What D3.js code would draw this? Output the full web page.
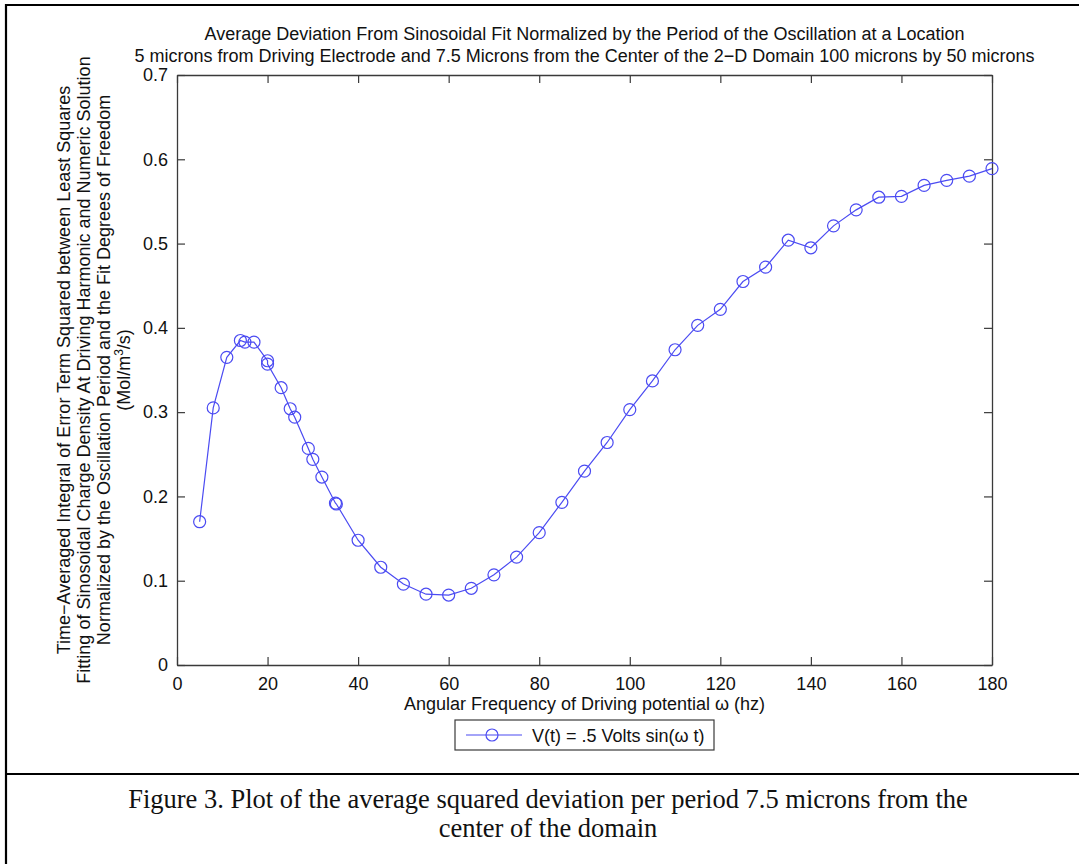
<!DOCTYPE html>
<html>
<head>
<meta charset="utf-8">
<script src="https://cdn.jsdelivr.net/npm/d3@7"></script>
<style>
  body { margin: 0; background: #fff; }
  svg text { font-family: "Liberation Sans", Arial, Helvetica, sans-serif; fill: #111; }
  .caption { font-family: "Liberation Serif", "Times New Roman", serif; }
</style>
</head>
<body>
<div id="vis"></div>
<script>
// data
const freq = [5, 8, 11, 14, 15, 17, 20, 20, 23, 25, 26, 29, 30, 32, 35, 35.2, 40, 45, 50, 55, 60, 65, 70, 75,
  80, 85, 90, 95, 100, 105, 110, 115, 120, 125, 130, 135, 140, 145, 150, 155, 160, 165, 170, 175, 180]
const deviation = [0.170, 0.305, 0.365, 0.385, 0.383, 0.383, 0.361, 0.357, 0.329, 0.304, 0.294, 0.257, 0.244,
  0.223, 0.192, 0.191, 0.148, 0.116, 0.096, 0.084, 0.083, 0.091, 0.107, 0.128, 0.157, 0.193, 0.230, 0.264,
  0.303, 0.337, 0.374, 0.403, 0.422, 0.455, 0.472, 0.504, 0.495, 0.521, 0.540, 0.555, 0.556, 0.569, 0.575,
  0.580, 0.589]
const xTicks = [0, 20, 40, 60, 80, 100, 120, 140, 160, 180]
const yTicks = [0, 0.1, 0.2, 0.3, 0.4, 0.5, 0.6, 0.7]

const titleLines = [
  'Average Deviation From Sinosoidal Fit Normalized by the Period of the Oscillation at a Location',
  '5 microns from Driving Electrode and 7.5 Microns from the Center of the 2\u2212D Domain 100 microns by 50 microns'
]
const yLabelLines = [
  'Time\u2212Averaged Integral of Error Term Squared between Least Squares',
  'Fitting of Sinosoidal Charge Density At Driving Harmonic and Numeric Solution',
  'Normalized by the Oscillation Period and the Fit Degrees of Freedom'
]
const xLabel = 'Angular Frequency of Driving potential \u03c9 (hz)'
const legendLabel = 'V(t) = .5 Volts sin(\u03c9 t)'
const captionLines = [
  'Figure 3. Plot of the average squared deviation per period 7.5 microns from the',
  'center of the domain'
]

const data = freq.map((f, i) => ({ x: f, y: deviation[i] }))

const W = 1079, H = 864
const plot = { left: 177, top: 75, right: 992, bottom: 665 }
const blue = '#4b4bf2'
const axisColor = '#3a3a3a'
const tickLen = 8
const fs = '18px'

const svg = d3.select('#vis')
  .append('svg')
  .attr('width', W)
  .attr('height', H)

// outer figure frame (right and bottom edges are cut off in the original)
const frame = svg.append('g').attr('stroke', '#000').attr('stroke-width', 2.2).attr('fill', 'none')
frame.append('path').attr('d', `M6,${H} L6,5 L${W},5`)
frame.append('line').attr('x1', 6).attr('x2', W).attr('y1', 774).attr('y2', 774)

const xScale = d3.scaleLinear().domain([0, 180]).range([plot.left, plot.right])
const yScale = d3.scaleLinear().domain([0, 0.7]).range([plot.bottom, plot.top])

// axes, matlab-style: inward ticks on all four sides
const fmtY = d => d === 0 ? '0' : d3.format('.1f')(d)

const gx = svg.append('g')
  .attr('transform', `translate(0,${plot.bottom})`)
  .call(d3.axisBottom(xScale).tickValues(xTicks).tickSizeInner(-tickLen).tickSizeOuter(0).tickPadding(12))
const gy = svg.append('g')
  .attr('transform', `translate(${plot.left},0)`)
  .call(d3.axisLeft(yScale).tickValues(yTicks).tickFormat(fmtY).tickSizeInner(-tickLen).tickSizeOuter(0).tickPadding(9))
const gxTop = svg.append('g')
  .attr('transform', `translate(0,${plot.top})`)
  .call(d3.axisTop(xScale).tickValues(xTicks).tickSizeInner(-tickLen).tickSizeOuter(0).tickFormat(''))
const gyRight = svg.append('g')
  .attr('transform', `translate(${plot.right},0)`)
  .call(d3.axisRight(yScale).tickValues(yTicks).tickSizeInner(-tickLen).tickSizeOuter(0).tickFormat(''))

;[gx, gy, gxTop, gyRight].forEach(g => {
  g.select('.domain').attr('stroke', axisColor).attr('stroke-width', 1.3)
  g.selectAll('.tick line').attr('stroke', axisColor).attr('stroke-width', 1.2)
  g.selectAll('.tick text').style('font-size', fs).attr('fill', '#111')
})

// title
svg.selectAll('.title')
  .data(titleLines)
  .enter()
  .append('text')
  .attr('class', 'title')
  .attr('x', (plot.left + plot.right) / 2)
  .attr('y', (d, i) => 40 + i * 22)
  .attr('text-anchor', 'middle')
  .style('font-size', fs)
  .text(d => d)

// y label (rotated, four lines)
const yLabX = [70, 90, 110]
const ymid = (plot.top + plot.bottom) / 2
svg.selectAll('.ylab')
  .data(yLabelLines)
  .enter()
  .append('text')
  .attr('class', 'ylab')
  .attr('transform', (d, i) => `translate(${yLabX[i]},${ymid}) rotate(-90)`)
  .attr('text-anchor', 'middle')
  .style('font-size', fs)
  .text(d => d)

const unit = svg.append('text')
  .attr('transform', `translate(130,${ymid}) rotate(-90)`)
  .attr('text-anchor', 'middle')
  .style('font-size', fs)
unit.append('tspan').text('(Mol/m')
unit.append('tspan').attr('dy', -7).style('font-size', '12px').text('3')
unit.append('tspan').attr('dy', 7).text('/s)')

// x label
svg.append('text')
  .attr('x', (plot.left + plot.right) / 2)
  .attr('y', 710)
  .attr('text-anchor', 'middle')
  .style('font-size', fs)
  .text(xLabel)

// series
const line = d3.line().x(d => xScale(d.x)).y(d => yScale(d.y))
svg.append('path')
  .datum(data)
  .attr('d', line)
  .attr('fill', 'none')
  .attr('stroke', blue)
  .attr('stroke-width', 1.2)

svg.selectAll('.points')
  .data(data)
  .enter()
  .append('circle')
  .attr('class', 'points')
  .attr('cx', d => xScale(d.x))
  .attr('cy', d => yScale(d.y))
  .attr('r', 6)
  .attr('fill', 'none')
  .attr('stroke', blue)
  .attr('stroke-width', 1.2)

// legend
const legend = svg.append('g').attr('transform', 'translate(455,720)')
legend.append('rect')
  .attr('width', 259)
  .attr('height', 30)
  .attr('fill', '#fff')
  .attr('stroke', axisColor)
  .attr('stroke-width', 1.2)
legend.append('line')
  .attr('x1', 11).attr('x2', 67).attr('y1', 15).attr('y2', 15)
  .attr('stroke', blue).attr('stroke-width', 1.2)
legend.append('circle')
  .attr('cx', 37).attr('cy', 15).attr('r', 6)
  .attr('fill', 'none').attr('stroke', blue).attr('stroke-width', 1.2)
legend.append('text')
  .attr('x', 77)
  .attr('y', 21.5)
  .style('font-size', fs)
  .text(legendLabel)

// caption below the figure
svg.selectAll('.caption')
  .data(captionLines)
  .enter()
  .append('text')
  .attr('class', 'caption')
  .attr('x', 548)
  .attr('y', (d, i) => 808 + i * 29)
  .attr('text-anchor', 'middle')
  .style('font-size', '26.5px')
  .text(d => d)
</script>
</body>
</html>
